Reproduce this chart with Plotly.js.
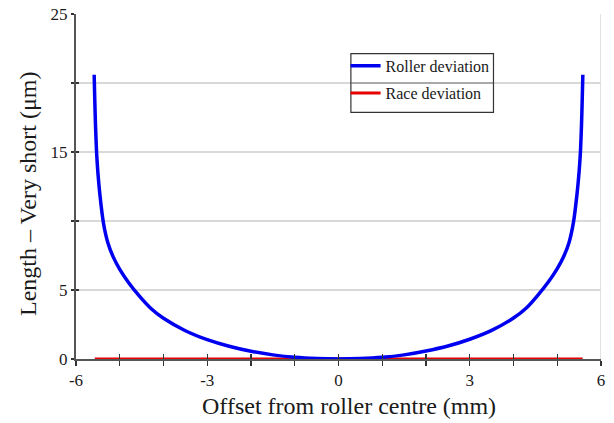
<!DOCTYPE html>
<html>
<head>
<meta charset="utf-8">
<script src="https://cdn.plot.ly/plotly-3.0.1.min.js"></script>
<style>
  html, body { margin: 0; padding: 0; background: #ffffff; }
  #chart { width: 614px; height: 423px; }
</style>
</head>
<body>
<div id="chart"></div>
<script>
// Roller profile deviation across the roller length (μm vs offset in mm)
const rollerX = [-5.585, -5.57, -5.555, -5.53, -5.5, -5.45, -5.37, -5.27, -5.15, -5.0, -4.8, -4.55, -4.3, -4.0, -3.5, -3.0, -2.5, -2.0, -1.5, -1.0, -0.5, 0,
                 0.5, 1.0, 1.5, 2.0, 2.5, 3.0, 3.5, 4.0, 4.3, 4.55, 4.8, 5.0, 5.15, 5.27, 5.37, 5.45, 5.5, 5.53, 5.555, 5.57, 5.585];
const rollerY = [20.6, 18.7, 17.0, 15.0, 13.5, 11.8, 9.8, 8.4, 7.4, 6.5, 5.55, 4.55, 3.7, 2.95, 2.05, 1.4, 0.92, 0.56, 0.3, 0.12, 0.03, 0,
                 0.03, 0.12, 0.3, 0.58, 0.94, 1.43, 2.07, 2.97, 3.72, 4.6, 5.6, 6.55, 7.45, 8.45, 9.9, 11.9, 13.6, 15.0, 17.0, 18.7, 20.6];

// Race deviation stays flat at zero over the same span
const raceX = [-5.57, 5.58];
const raceY = [0, 0];

// Axis ticks and labels
const xTickVals = [-6, -5, -4, -3, -2, -1, 0, 1, 2, 3, 4, 5, 6];
const xTickText = ['-6', '', '', '-3', '', '', '0', '', '', '3', '', '', '6'];
const yTickVals = [0, 5, 10, 15, 20, 25];
const yTickText = ['0', '5', '', '15', '', '25'];

const serif = '"Liberation Serif", "Times New Roman", serif';
const textColor = '#1a1a1a';
const axisColor = '#555555';
const gridColor = '#d9d9d9';

const traces = [
  {
    x: raceX, y: raceY, type: 'scatter', mode: 'lines',
    name: 'Race deviation', legend: 'legend2', showlegend: true,
    line: { color: '#e60000', width: 3 }
  },
  {
    x: rollerX, y: rollerY, type: 'scatter', mode: 'lines',
    name: 'Roller deviation', legend: 'legend', showlegend: true,
    line: { color: '#0000f0', width: 3.5, shape: 'spline', smoothing: 0.6 }
  },
  // carrier for the inward tick marks (no data)
  { x: [], y: [], xaxis: 'x2', yaxis: 'y2', type: 'scatter', mode: 'lines', showlegend: false, hoverinfo: 'skip' }
];

const legendCommon = {
  xanchor: 'left', yanchor: 'middle',
  bgcolor: 'rgba(0,0,0,0)', borderwidth: 0,
  font: { family: serif, size: 16, color: textColor },
  itemwidth: 30
};

const layout = {
  width: 614, height: 423,
  showlegend: true,
  margin: { l: 76, r: 13, t: 14, b: 64 },
  paper_bgcolor: '#ffffff', plot_bgcolor: '#ffffff',
  font: { family: serif, color: textColor },
  xaxis: {
    range: [-6, 6], tickmode: 'array', tickvals: xTickVals, ticktext: xTickText,
    ticks: 'outside', ticklen: 5, tickwidth: 1.3, tickcolor: '#333333',
    showline: true, linecolor: axisColor, linewidth: 2,
    showgrid: false, zeroline: false,
    tickfont: { family: serif, size: 17, color: textColor }
  },
  yaxis: {
    range: [0, 25], tickmode: 'array', tickvals: yTickVals, ticktext: yTickText,
    ticks: 'outside', ticklen: 3, tickwidth: 1.3, tickcolor: '#333333',
    showline: true, linecolor: axisColor, linewidth: 2,
    showgrid: true, gridcolor: gridColor, gridwidth: 1.5, zeroline: false,
    tickfont: { family: serif, size: 17, color: textColor }
  },
  xaxis2: {
    overlaying: 'x', anchor: 'y2', side: 'bottom', range: [-6, 6],
    tickmode: 'array', tickvals: xTickVals, ticks: 'inside', ticklen: 5, tickwidth: 1.3, tickcolor: '#333333',
    showticklabels: false, showgrid: false, zeroline: false, showline: false
  },
  yaxis2: {
    overlaying: 'y', anchor: 'x2', side: 'left', range: [0, 25],
    tickmode: 'array', tickvals: yTickVals, ticks: 'inside', ticklen: 3, tickwidth: 1.3, tickcolor: '#333333',
    showticklabels: false, showgrid: false, zeroline: false, showline: false
  },
  legend: Object.assign({ x: 0.5135, y: 0.850 }, legendCommon),
  legend2: Object.assign({ x: 0.5135, y: 0.771 }, legendCommon),
  shapes: [
    // right frame edge
    { type: 'line', xref: 'x', yref: 'y', x0: 6, x1: 6, y0: 0, y1: 25,
      line: { color: gridColor, width: 1.5 }, layer: 'below' },
    // legend box with a rule between the two entries
    { type: 'rect', xref: 'paper', yref: 'paper', x0: 0.5236, x1: 0.7952, y0: 0.7151, y1: 0.8849,
      fillcolor: '#ffffff', line: { color: '#333333', width: 1.2 }, layer: 'above' },
    { type: 'line', xref: 'paper', yref: 'y', x0: 0.5236, x1: 0.7952, y0: 20, y1: 20,
      line: { color: '#555555', width: 1.2 }, layer: 'above' }
  ],
  annotations: [
    { text: 'Offset from roller centre (mm)', xref: 'paper', yref: 'paper',
      x: 0.520, y: -0.1354, xanchor: 'center', yanchor: 'middle', showarrow: false,
      font: { family: serif, size: 24, color: textColor } },
    { text: 'Length – Very short (μm)', xref: 'paper', yref: 'paper',
      x: -0.091, y: 0.479, xanchor: 'center', yanchor: 'middle', textangle: -90, showarrow: false,
      font: { family: serif, size: 24, color: textColor } }
  ]
};

Plotly.newPlot('chart', traces, layout, { displayModeBar: false, staticPlot: true });
</script>
</body>
</html>
